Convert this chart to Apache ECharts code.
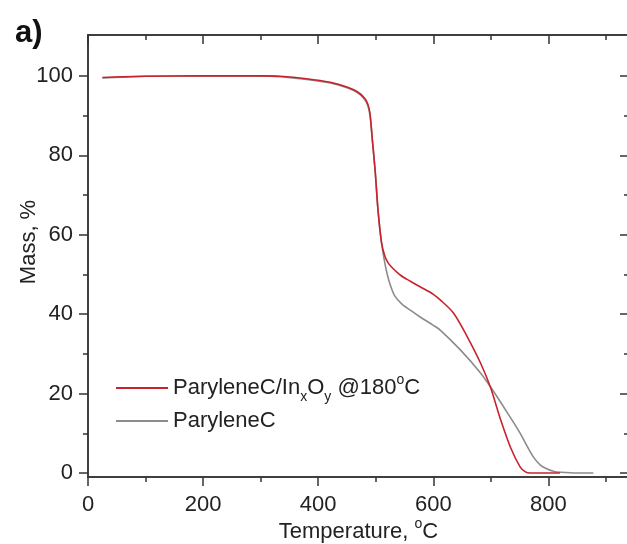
<!DOCTYPE html>
<html>
<head>
<meta charset="utf-8">
<script src="https://cdn.jsdelivr.net/npm/echarts@6/dist/echarts.min.js"></script>
<style>
  html, body { margin: 0; padding: 0; background: #fff; }
  #chart { width: 627px; height: 544px; }
</style>
</head>
<body>
<div id="chart"></div>
<script>
// TGA curves (temperature in °C, mass in %)
const tempComposite = [25, 60, 100, 200, 300, 334, 380, 421, 450, 468, 480, 486, 490, 494, 499, 504, 510, 516, 522, 530, 543, 560, 577, 600, 612, 635, 659, 682, 699, 717, 734, 751, 760, 768, 790, 820];
const massComposite = [99.6, 99.8, 99.9, 100, 100, 99.9, 99.3, 98.4, 97.2, 96.0, 94.5, 93.0, 90.5, 84.0, 76.0, 66.0, 58.0, 54.5, 52.8, 51.5, 49.8, 48.3, 46.9, 45.0, 43.6, 40.3, 34.3, 27.7, 21.7, 13.4, 6.5, 1.5, 0.3, 0, 0, 0];

const tempParylene = [25, 60, 100, 200, 300, 334, 380, 421, 450, 468, 480, 486, 490, 494, 499, 504, 510, 515, 520, 526, 533, 545, 560, 577, 600, 612, 647, 682, 703, 729, 751, 762, 774, 786, 798, 810, 821, 850, 878];
const massParylene = [99.5, 99.7, 99.9, 100, 100, 99.8, 99.1, 98.2, 97.0, 95.8, 94.2, 92.6, 90.0, 84.0, 76.0, 66.0, 58.0, 53.5, 50.0, 47.0, 44.6, 42.6, 41.0, 39.3, 37.2, 36.0, 31.0, 25.2, 20.9, 15.1, 10.0, 7.0, 4.0, 2.0, 1.0, 0.4, 0.2, 0, 0];

const seriesNames = ["ParyleneC/InxOy @180°C", "ParyleneC"];
const xMajorTicks = [0, 200, 400, 600, 800];
const xMinorTicks = [100, 300, 500, 700, 900];
const yMajorTicks = [0, 20, 40, 60, 80, 100];
const yMinorTicks = [10, 30, 50, 70, 90];

const X_MIN = 0, X_MAX = 940;
const Y_MIN = -1, Y_MAX = 110.3;

const axisColor = "#333";
const textColor = "#222";
const fontFamily = "'Liberation Sans', Arial, sans-serif";

const toPairs = (xs, ys) => xs.map((x, i) => [x, ys[i]]);

// one axis per tick family so major/minor ticks get their own length
const makeXAxis = (position, ticks, length, inside, extra) => Object.assign({
  type: "value",
  position: position,
  min: X_MIN,
  max: X_MAX,
  splitLine: { show: false },
  axisLine: { show: true, onZero: false, lineStyle: { color: axisColor, width: 1.5 } },
  axisTick: { show: true, inside: inside, length: length, customValues: ticks, lineStyle: { color: axisColor, width: 1.5 } },
  axisLabel: { show: false }
}, extra || {});

const makeYAxis = (position, ticks, length, inside, extra) => Object.assign({
  type: "value",
  position: position,
  min: Y_MIN,
  max: Y_MAX,
  splitLine: { show: false },
  axisLine: { show: true, onZero: false, lineStyle: { color: axisColor, width: 1.5 } },
  axisTick: { show: true, inside: inside, length: length, customValues: ticks, lineStyle: { color: axisColor, width: 1.5 } },
  axisLabel: { show: false }
}, extra || {});

const chart = echarts.init(document.getElementById("chart"));

chart.setOption({
  backgroundColor: "#fff",
  animation: false,
  title: {
    text: "a)",
    left: 10,
    top: 13,
    textStyle: { fontFamily: fontFamily, fontSize: 31, fontWeight: "bold", color: "#111" }
  },
  grid: {
    left: 88,
    top: 35,
    width: 541,
    height: 442,
    outerBoundsMode: "none"
  },
  legend: {
    orient: "vertical",
    left: 111,
    top: 368,
    icon: "rect",
    itemWidth: 52,
    itemHeight: 2,
    itemGap: 6,
    data: seriesNames,
    formatter: (name) => name === seriesNames[0]
      ? "ParyleneC/In{sub|x}O{sub|y} @180{sup|o}C"
      : name,
    textStyle: {
      fontFamily: fontFamily,
      fontSize: 22,
      color: textColor,
      rich: {
        sub: { fontFamily: fontFamily, fontSize: 14, color: textColor, verticalAlign: "bottom", padding: [0, 0, -5, 0] },
        sup: { fontFamily: fontFamily, fontSize: 14, color: textColor, verticalAlign: "top", padding: [-4, 0, 0, 0] }
      }
    }
  },
  xAxis: [
    makeXAxis("bottom", xMajorTicks, 9, false, {
      name: "Temperature, {sup|o}C",
      nameLocation: "middle",
      nameGap: 44,
      nameMoveOverlap: false,
      nameTextStyle: {
        fontFamily: fontFamily, fontSize: 22, color: textColor,
        rich: { sup: { fontFamily: fontFamily, fontSize: 14, color: textColor, verticalAlign: "top", padding: [-4, 0, 0, 0] } }
      },
      axisLabel: {
        show: true,
        customValues: xMajorTicks,
        margin: 17,
        fontFamily: fontFamily,
        fontSize: 22,
        color: textColor
      }
    }),
    makeXAxis("bottom", xMinorTicks, 5, false),
    makeXAxis("top", xMajorTicks, 9, true),
    makeXAxis("top", xMinorTicks, 5, true)
  ],
  yAxis: [
    makeYAxis("left", yMajorTicks, 9, false, {
      name: "Mass, %",
      nameLocation: "middle",
      nameGap: 48,
      nameMoveOverlap: false,
      nameTextStyle: { fontFamily: fontFamily, fontSize: 22, color: textColor, padding: [0, 0, 0, 28] },
      axisLabel: {
        show: true,
        customValues: yMajorTicks,
        margin: 15,
        fontFamily: fontFamily,
        fontSize: 22,
        color: textColor
      }
    }),
    makeYAxis("left", yMinorTicks, 5, false),
    makeYAxis("right", yMajorTicks, 9, true),
    makeYAxis("right", yMinorTicks, 5, true)
  ],
  series: [
    {
      name: seriesNames[1],
      type: "line",
      xAxisIndex: 0,
      yAxisIndex: 0,
      data: toPairs(tempParylene, massParylene),
      symbol: "none",
      smooth: 0.3,
      lineStyle: { color: "#8c8c8c", width: 1.6 },
      itemStyle: { color: "#8c8c8c" }
    },
    {
      name: seriesNames[0],
      type: "line",
      xAxisIndex: 0,
      yAxisIndex: 0,
      data: toPairs(tempComposite, massComposite),
      symbol: "none",
      smooth: 0.3,
      lineStyle: { color: "#c8232c", width: 1.6 },
      itemStyle: { color: "#c8232c" }
    }
  ]
});
</script>
</body>
</html>
